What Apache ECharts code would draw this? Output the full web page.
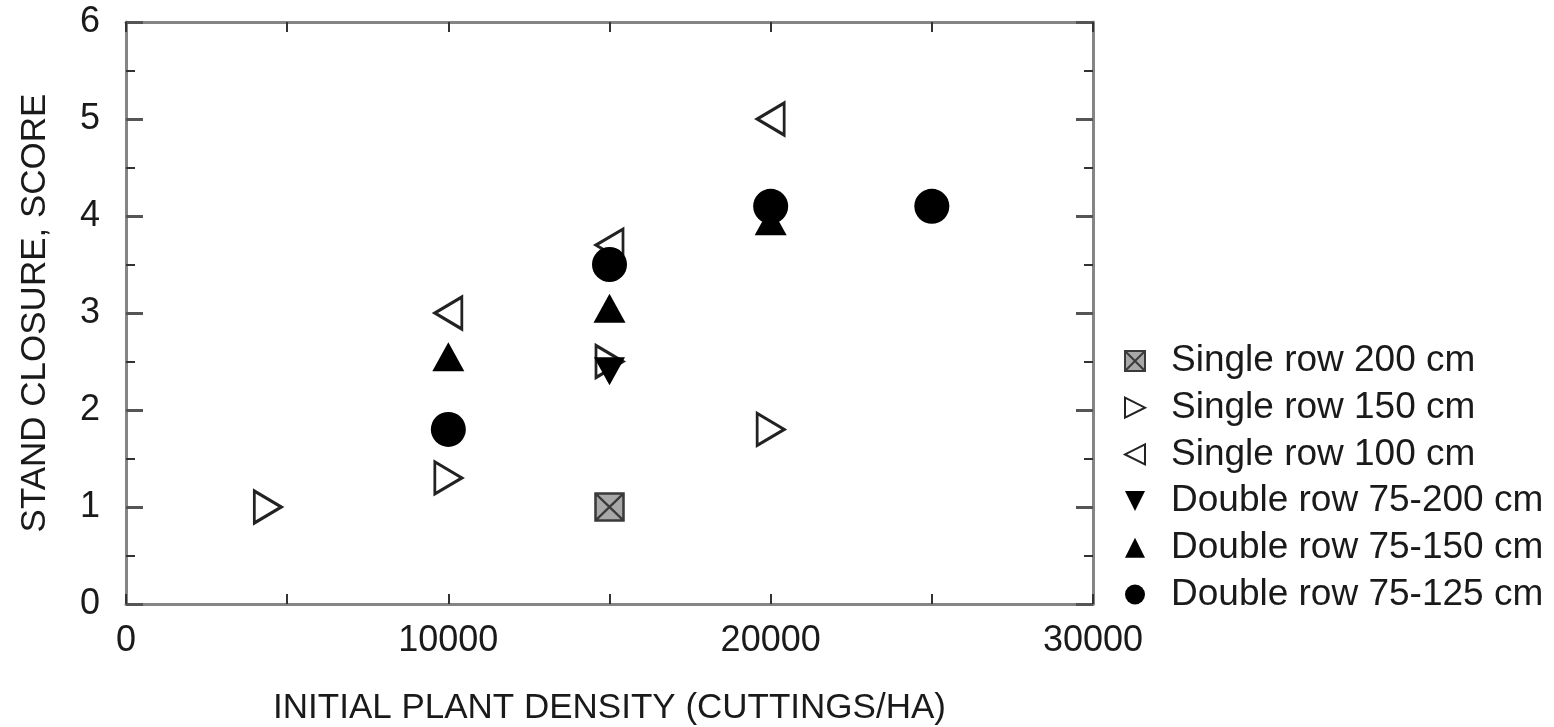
<!DOCTYPE html>
<html>
<head>
<meta charset="utf-8">
<script src="https://cdn.jsdelivr.net/npm/echarts@6/dist/echarts.min.js"></script>
<style>
  html, body { margin: 0; padding: 0; background: #ffffff; }
  #chart { width: 1554px; height: 727px; }
</style>
</head>
<body>
<div id="chart"></div>
<script>
// Stand closure score versus initial planting density, by row arrangement.
const seriesNames = [
  'Single row 200 cm',
  'Single row 150 cm',
  'Single row 100 cm',
  'Double row 75-200 cm',
  'Double row 75-150 cm',
  'Double row 75-125 cm'
];
// [cuttings per ha, closure score]
const singleRow200 = [[15000, 1.0]];
const singleRow150 = [[4400, 1.0], [10000, 1.3], [15000, 2.5], [20000, 1.8]];
const singleRow100 = [[10000, 3.0], [15000, 3.7], [20000, 5.0]];
const doubleRow75to200 = [[15000, 2.4]];
const doubleRow75to150 = [[10000, 2.55], [15000, 3.05], [20000, 3.95]];
const doubleRow75to125 = [[10000, 1.8], [15000, 3.5], [20000, 4.1], [25000, 4.1]];

const xRange = [0, 30000];
const xStep = 10000;
const yRange = [0, 6];
const yStep = 1;

const FONT = "'Liberation Sans', Arial, Helvetica, sans-serif";
const INK = '#1a1a1a';
const AXIS_GRAY = '#858585';

// marker shapes
const SQUARE_X = 'path://M0,0 L10,0 L10,10 L0,10 Z M0,0 L10,10 M10,0 L0,10';
const TRI_RIGHT = 'path://M0,0 L10,5 L0,10 Z';
const TRI_LEFT = 'path://M10,0 L0,5 L10,10 Z';
const TRI_DOWN = 'path://M0,0 L10,0 L5,10 Z';
const TRI_UP = 'path://M5,0 L10,10 L0,10 Z';

const seriesDefs = [
  { data: singleRow200, symbol: SQUARE_X, size: [28, 27],
    style: { color: '#a8a8a8', borderColor: '#3a3a3a', borderWidth: 2.5 } },
  { data: singleRow150, symbol: TRI_RIGHT, size: [27, 32],
    style: { color: '#ffffff', borderColor: '#222222', borderWidth: 3 } },
  { data: singleRow100, symbol: TRI_LEFT, size: [27, 32],
    style: { color: '#ffffff', borderColor: '#222222', borderWidth: 3 } },
  { data: doubleRow75to200, symbol: TRI_DOWN, size: [31, 28],
    style: { color: '#000000' } },
  { data: doubleRow75to150, symbol: TRI_UP, size: [32, 29],
    style: { color: '#000000' } },
  { data: doubleRow75to125, symbol: 'circle', size: 35,
    style: { color: '#000000' } }
];

function frameAxisX(pos, withLabels) {
  return {
    type: 'value',
    position: pos,
    min: xRange[0],
    max: xRange[1],
    interval: xStep,
    axisLine: { show: true, onZero: false, lineStyle: { color: AXIS_GRAY, width: 3 } },
    axisTick: { show: true, inside: true, length: 10, lineStyle: { color: '#333333', width: 2 } },
    minorTick: { show: true, splitNumber: 2, length: 10, lineStyle: { color: '#333333', width: 2 } },
    splitLine: { show: false },
    minorSplitLine: { show: false },
    axisLabel: {
      show: withLabels,
      formatter: (v) => String(v),
      fontFamily: FONT, fontSize: 36, color: INK, margin: 19
    }
  };
}

function frameAxisY(pos, withLabels) {
  return {
    type: 'value',
    position: pos,
    min: yRange[0],
    max: yRange[1],
    interval: yStep,
    axisLine: { show: true, onZero: false, lineStyle: { color: AXIS_GRAY, width: 3 } },
    axisTick: { show: true, inside: true, length: 17, lineStyle: { color: '#555555', width: 3 } },
    minorTick: { show: true, splitNumber: 2, length: 9, lineStyle: { color: '#333333', width: 2 } },
    splitLine: { show: false },
    minorSplitLine: { show: false },
    axisLabel: {
      show: withLabels,
      formatter: (v) => String(v),
      fontFamily: FONT, fontSize: 36, color: INK, margin: 26
    }
  };
}

const xBottom = Object.assign(frameAxisX('bottom', true), {
  name: 'INITIAL PLANT DENSITY (CUTTINGS/HA)',
  nameLocation: 'middle',
  nameGap: 87,
  nameTextStyle: { fontFamily: FONT, fontSize: 35, color: INK }
});
const xTop = frameAxisX('top', false);

const yLeft = Object.assign(frameAxisY('left', true), {
  name: 'STAND CLOSURE, SCORE',
  nameLocation: 'middle',
  nameGap: 73,
  nameRotate: 90,
  nameTextStyle: { fontFamily: FONT, fontSize: 35, color: INK }
});
const yRight = frameAxisY('right', false);

const chart = echarts.init(document.getElementById('chart'), null, { renderer: 'canvas' });

chart.setOption({
  backgroundColor: '#ffffff',
  animation: false,
  textStyle: { fontFamily: FONT },
  grid: {
    left: 126, right: 461, top: 22, bottom: 123,
    containLabel: false,
    outerBoundsMode: 'none'
  },
  xAxis: [xBottom, xTop],
  yAxis: [yLeft, yRight],
  legend: {
    orient: 'vertical',
    left: 1119,
    top: 336,
    itemWidth: 22,
    itemHeight: 20,
    itemGap: 6.7,
    selectedMode: false,
    data: seriesNames.map((name, i) => ({ name: name, icon: seriesDefs[i].symbol })),
    textStyle: {
      fontFamily: FONT, fontSize: 37, color: INK,
      lineHeight: 40, padding: [0, 0, 0, 20]
    }
  },
  series: seriesDefs.map((d, i) => ({
    name: seriesNames[i],
    type: 'scatter',
    xAxisIndex: 0,
    yAxisIndex: 0,
    symbol: d.symbol,
    symbolSize: d.size,
    symbolKeepAspect: false,
    itemStyle: Object.assign({ opacity: 1 }, d.style),
    emphasis: { disabled: true },
    z: 2 + i,
    data: d.data
  }))
});
</script>
</body>
</html>
